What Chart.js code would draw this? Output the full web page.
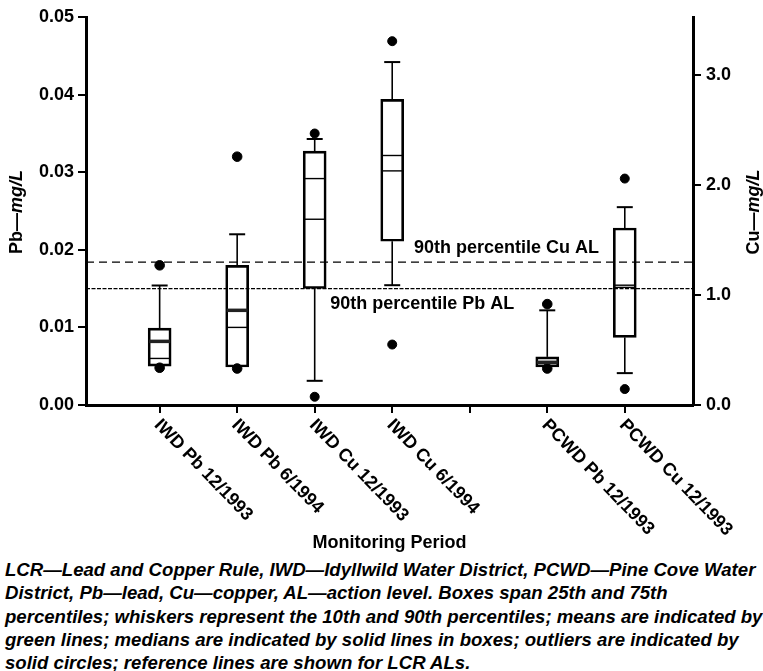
<!DOCTYPE html>
<html lang="en">
<head>
<meta charset="UTF-8" />
<title>Pb and Cu by monitoring period</title>
<script src="https://cdn.jsdelivr.net/npm/chart.js"></script>
<style>
  html, body { margin: 0; padding: 0; background: #fff; overflow: hidden; }
  #wrap { position: relative; width: 763px; height: 671px; }
  #chartBox { position: absolute; left: 0; top: 0; width: 763px; height: 556px; }
  #caption { position: absolute; left: 5px; top: 558px; color: #000;
    font: italic bold 18.6px "Liberation Sans", Arial, sans-serif; line-height: 23.3px; white-space: nowrap; }
</style>
</head>
<body>
<div id="wrap">
  <div id="chartBox"><canvas id="boxChart"></canvas></div>
  <div id="caption">
    <div>LCR—Lead and Copper Rule, IWD—Idyllwild Water District, PCWD—Pine Cove Water</div>
    <div>District, Pb—lead, Cu—copper, AL—action level. Boxes span 25th and 75th</div>
    <div>percentiles; whiskers represent the 10th and 90th percentiles; means are indicated by</div>
    <div>green lines; medians are indicated by solid lines in boxes; outliers are indicated by</div>
    <div>solid circles; reference lines are shown for LCR ALs.</div>
  </div>
</div>

<script>
  // categories (the blank one is an empty slot on the axis)
  const categories = ["IWD Pb 12/1993", "IWD Pb 6/1994", "IWD Cu 12/1993", "IWD Cu 6/1994", "", "PCWD Pb 12/1993", "PCWD Cu 12/1993"];
  const metal      = ["Pb", "Pb", "Cu", "Cu", null, "Pb", "Cu"];

  // box plot stats (Pb in mg/L on left axis, Cu in mg/L on right axis)
  const whiskerLow  = [0.0050, 0.0049, 0.22, 1.09, null, 0.0049, 0.29];
  const q1          = [0.0050, 0.0049, 1.06, 1.49, null, 0.0049, 0.615];
  const median      = [0.0060, 0.0100, 1.69, 2.13, null, 0.0051, 1.09];
  const mean        = [0.0082, 0.0122, 2.06, 2.27, null, 0.0055, 1.07];
  const q3          = [0.0099, 0.0180, 2.31, 2.78, null, 0.0062, 1.61];
  const whiskerHigh = [0.0154, 0.0220, 2.42, 3.12, null, 0.0122, 1.80];
  const outliers    = [[0.0180, 0.0048], [0.0320, 0.0047], [2.47, 0.075], [3.31, 0.55], [], [0.0130, 0.0047], [2.06, 0.145]];

  // axes
  const pbTicks = [0, 0.01, 0.02, 0.03, 0.04, 0.05];
  const cuTicks = [0, 1, 2, 3];
  const pbMax = 0.05;
  const cuMax = 3.53;
  const xMin = 0.05, xMax = 7.88;

  // action levels
  const pbActionLevel = 0.015;
  const cuActionLevel = 1.3;

  const FONT = '"Liberation Sans", Arial, sans-serif';

  function boxData(m) {
    const out = [];
    categories.forEach((c, i) => { if (metal[i] === m) out.push({ x: i + 1, y: [q1[i], q3[i]] }); });
    return out;
  }
  function outlierData(m) {
    const out = [];
    categories.forEach((c, i) => { if (metal[i] === m) outliers[i].forEach(v => out.push({ x: i + 1, y: v })); });
    return out;
  }

  const boxExtras = {
    id: "boxExtras",
    afterDatasetsDraw(chart) {
      const ctx = chart.ctx, xs = chart.scales.x;
      ctx.save();
      ctx.strokeStyle = "#000";
      categories.forEach((c, i) => {
        if (!metal[i]) return;
        const ys = metal[i] === "Pb" ? chart.scales.y : chart.scales.y1;
        const cx = xs.getPixelForValue(i + 1);
        const half = 10.5, cap = 8;
        const line = (x1, y1, x2, y2, w) => { ctx.lineWidth = w; ctx.beginPath(); ctx.moveTo(x1, y1); ctx.lineTo(x2, y2); ctx.stroke(); };
        // whiskers
        if (whiskerHigh[i] > q3[i]) {
          line(cx, ys.getPixelForValue(q3[i]), cx, ys.getPixelForValue(whiskerHigh[i]), 1.6);
          line(cx - cap, ys.getPixelForValue(whiskerHigh[i]), cx + cap, ys.getPixelForValue(whiskerHigh[i]), 2);
        }
        if (whiskerLow[i] < q1[i]) {
          line(cx, ys.getPixelForValue(q1[i]), cx, ys.getPixelForValue(whiskerLow[i]), 1.6);
          line(cx - cap, ys.getPixelForValue(whiskerLow[i]), cx + cap, ys.getPixelForValue(whiskerLow[i]), 2);
        }
        // median
        line(cx - half, ys.getPixelForValue(median[i]), cx + half, ys.getPixelForValue(median[i]), 1.4);
        // mean
        ctx.strokeStyle = metal[i] === "Pb" ? "#222" : "#000";
        line(cx - half, ys.getPixelForValue(mean[i]), cx + half, ys.getPixelForValue(mean[i]), metal[i] === "Pb" ? 3.5 : 1.4);
        ctx.strokeStyle = "#000";
      });
      ctx.restore();
    },
    afterDraw(chart) {
      const ctx = chart.ctx, xs = chart.scales.x, area = chart.chartArea;
      ctx.save();
      ctx.fillStyle = "#000";

      // category labels, slanted down to the right
      ctx.font = "bold 18px " + FONT;
      ctx.textAlign = "left";
      ctx.textBaseline = "top";
      categories.forEach((c, i) => {
        if (!c) return;
        ctx.save();
        ctx.translate(xs.getPixelForValue(i + 1) + 4, area.bottom + 11);
        ctx.rotate(46 * Math.PI / 180);
        ctx.fillText(c, 0, 0);
        ctx.restore();
      });

      // x title
      ctx.textAlign = "center";
      ctx.textBaseline = "middle";
      ctx.fillText("Monitoring Period", (area.left + area.right) / 2, 543);

      // reference line labels
      ctx.textAlign = "left";
      const ys = chart.scales.y, ys1 = chart.scales.y1;
      ctx.fillText("90th percentile Cu AL", xs.getPixelForValue(4.28), ys1.getPixelForValue(cuActionLevel) - 14);
      ctx.fillText("90th percentile Pb AL", xs.getPixelForValue(3.2), ys.getPixelForValue(pbActionLevel) + 15);

      // axis titles with italic units
      const title = (x, y, a, b) => {
        ctx.save();
        ctx.translate(x, y);
        ctx.rotate(-Math.PI / 2);
        ctx.font = "bold 18px " + FONT;
        const wa = ctx.measureText(a).width;
        ctx.font = "italic bold 18px " + FONT;
        const wb = ctx.measureText(b).width;
        ctx.textAlign = "left";
        ctx.font = "bold 18px " + FONT;
        ctx.fillText(a, -(wa + wb) / 2, 0);
        ctx.font = "italic bold 18px " + FONT;
        ctx.fillText(b, -(wa + wb) / 2 + wa, 0);
        ctx.restore();
      };
      const midY = (area.top + area.bottom) / 2 + 1;
      title(17, midY, "Pb—", "mg/L");
      title(754, midY, "Cu—", "mg/L");
      ctx.restore();
    }
  };

  const axisGrid = { drawOnChartArea: false, tickLength: 8, color: "#000", lineWidth: 2, offset: false };
  const axisBorder = { color: "#000", width: 3 };
  const tickFont = { family: FONT, size: 18, weight: "bold" };

  new Chart(document.getElementById("boxChart"), {
    data: {
      datasets: [
        { type: "bar", data: boxData("Pb"), yAxisID: "y", grouped: false, barThickness: 23,
          backgroundColor: "rgba(0,0,0,0)", borderColor: "#000", borderWidth: 2, borderSkipped: false, order: 3 },
        { type: "bar", data: boxData("Cu"), yAxisID: "y1", grouped: false, barThickness: 23,
          backgroundColor: "rgba(0,0,0,0)", borderColor: "#000", borderWidth: 2, borderSkipped: false, order: 3 },
        { type: "line", data: [{ x: xMin, y: cuActionLevel }, { x: xMax, y: cuActionLevel }], yAxisID: "y1",
          borderColor: "#000", borderWidth: 1.4, borderDash: [8, 5], pointRadius: 0, order: 2 },
        { type: "line", data: [{ x: xMin, y: pbActionLevel }, { x: xMax, y: pbActionLevel }], yAxisID: "y",
          borderColor: "#000", borderWidth: 1.3, borderDash: [4, 1.5], pointRadius: 0, order: 2 },
        { type: "scatter", data: outlierData("Pb"), yAxisID: "y", pointRadius: 4.8,
          backgroundColor: "#000", borderColor: "#000", order: 1 },
        { type: "scatter", data: outlierData("Cu"), yAxisID: "y1", pointRadius: 4.5,
          backgroundColor: "#000", borderColor: "#000", order: 1 }
      ]
    },
    options: {
      responsive: true,
      maintainAspectRatio: false,
      animation: false,
      layout: { padding: { top: 17, left: 0, right: 0, bottom: 0 } },
      plugins: { legend: { display: false }, tooltip: { enabled: false } },
      scales: {
        x: {
          type: "linear", min: xMin, max: xMax, offset: false,
          afterBuildTicks: s => { s.ticks = categories.map((c, i) => ({ value: i + 1 })); },
          afterFit: s => { s.height = 151; },
          ticks: { display: false },
          grid: axisGrid, border: axisBorder
        },
        y: {
          type: "linear", position: "left", min: 0, max: pbMax,
          afterBuildTicks: s => { s.ticks = pbTicks.map(v => ({ value: v })); },
          afterFit: s => { s.width = 86; },
          ticks: { callback: v => v.toFixed(2), font: tickFont, color: "#000", padding: 4 },
          grid: axisGrid, border: axisBorder
        },
        y1: {
          type: "linear", position: "right", min: 0, max: cuMax,
          afterBuildTicks: s => { s.ticks = cuTicks.map(v => ({ value: v })); },
          afterFit: s => { s.width = 70; },
          ticks: { callback: v => v.toFixed(1), font: tickFont, color: "#000", padding: 5 },
          grid: axisGrid, border: axisBorder
        }
      }
    },
    plugins: [boxExtras]
  });
</script>
</body>
</html>
